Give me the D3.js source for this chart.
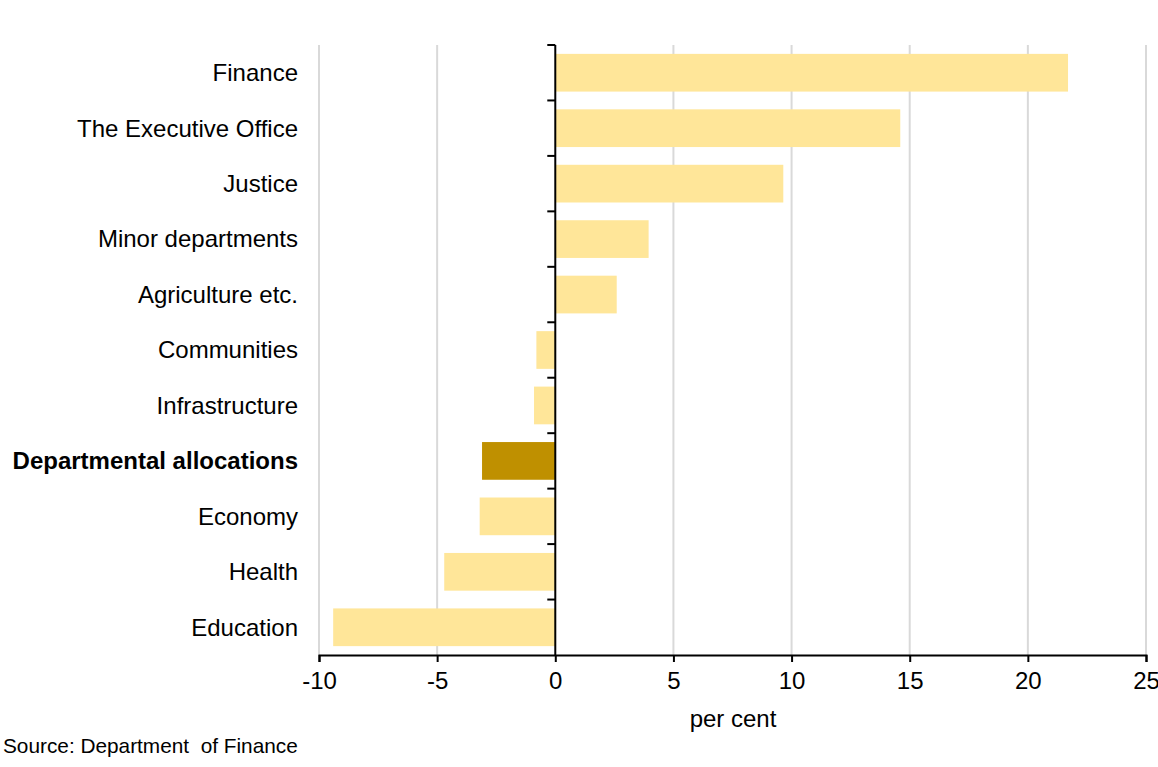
<!DOCTYPE html>
<html>
<head>
<meta charset="utf-8">
<script src="https://cdn.jsdelivr.net/npm/d3@7"></script>
<style>
  body { margin: 0; background: #fff; }
  text { font-family: "Liberation Sans", Arial, sans-serif; fill: #000; }
</style>
</head>
<body>
<script>
// departments, top to bottom
var departments = ["Finance", "The Executive Office", "Justice", "Minor departments",
  "Agriculture etc.", "Communities", "Infrastructure", "Departmental allocations",
  "Economy", "Health", "Education"];
var changes = [21.7, 14.6, 9.65, 3.95, 2.6, -0.8, -0.9, -3.1, -3.2, -4.7, -9.4];
var totalLabel = "Departmental allocations";
var xTicks = [-10, -5, 0, 5, 10, 15, 20, 25];

var w = 1158, h = 767;
var mLeft = 319, mRight = 1146, mTop = 45, mBottom = 655;

var svg = d3.select("body").append("svg")
  .attr("width", w)
  .attr("height", h);

var x = d3.scaleLinear().domain([-10, 25]).range([mLeft, mRight]);
var y = d3.scaleBand().domain(departments).range([mTop, mBottom]).paddingInner(0.32).paddingOuter(0.16);

// gridlines
svg.append("g").selectAll("line")
  .data(xTicks.filter(function(t) { return t != 0; }))
  .enter().append("line")
  .attr("x1", function(d) { return x(d); })
  .attr("x2", function(d) { return x(d); })
  .attr("y1", mTop)
  .attr("y2", mBottom)
  .attr("stroke", "#d9d9d9")
  .attr("stroke-width", 2);

// bars
var data = departments.map(function(d, i) { return { name: d, value: changes[i] }; });
svg.append("g").selectAll("rect")
  .data(data)
  .enter().append("rect")
  .attr("x", function(d) { return x(Math.min(0, d.value)); })
  .attr("width", function(d) { return Math.abs(x(d.value) - x(0)); })
  .attr("y", function(d) { return y(d.name); })
  .attr("height", y.bandwidth())
  .attr("fill", function(d) { return d.name == totalLabel ? "#bf9000" : "#ffe699"; });

// zero line with ticks between bands
var zero = svg.append("g");
zero.append("line")
  .attr("x1", x(0)).attr("x2", x(0))
  .attr("y1", mTop).attr("y2", mBottom)
  .attr("stroke", "#000").attr("stroke-width", 2);
zero.selectAll("line.tk")
  .data(d3.range(departments.length))
  .enter().append("line")
  .attr("class", "tk")
  .attr("x1", x(0) - 8).attr("x2", x(0))
  .attr("y1", function(i) { return mTop + i * y.step(); })
  .attr("y2", function(i) { return mTop + i * y.step(); })
  .attr("stroke", "#000").attr("stroke-width", 2);

// category labels
svg.append("g").selectAll("text")
  .data(departments)
  .enter().append("text")
  .attr("x", 298)
  .attr("y", function(d) { return y(d) + y.bandwidth() / 2; })
  .attr("dy", "0.35em")
  .attr("text-anchor", "end")
  .attr("font-size", 24)
  .attr("font-weight", function(d) { return d == totalLabel ? "bold" : "normal"; })
  .text(function(d) { return d; });

// x axis
var xAxis = svg.append("g")
  .attr("transform", "translate(0," + mBottom + ")")
  .call(d3.axisBottom(x).tickValues(xTicks).tickSize(7).tickPadding(10)
    .tickFormat(function(d) { return String(d); }));
xAxis.select(".domain").attr("stroke", "#000").attr("stroke-width", 2);
xAxis.selectAll(".tick line").attr("stroke", "#000").attr("stroke-width", 2);
xAxis.selectAll(".tick text")
  .attr("font-size", 24)
  .attr("font-family", "Liberation Sans, Arial, sans-serif")
  .attr("fill", "#000");

svg.append("text")
  .attr("x", 733)
  .attr("y", 727)
  .attr("text-anchor", "middle")
  .attr("font-size", 24)
  .text("per cent");

svg.append("text")
  .attr("x", 3)
  .attr("y", 753)
  .attr("font-size", 20.8)
  .style("white-space", "pre")
  .text("Source: Department  of Finance");
</script>
</body>
</html>
